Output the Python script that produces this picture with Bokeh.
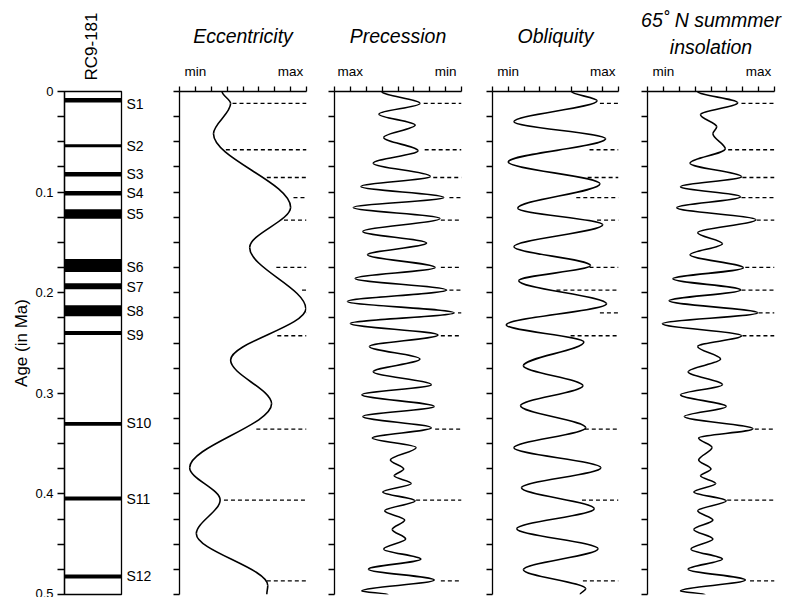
import numpy as np
from bokeh.plotting import figure
from bokeh.layouts import row
from bokeh.models import Range1d, FixedTicker, CustomJSTickFormatter, Title, LinearAxis
from bokeh.embed import file_html
from bokeh.resources import INLINE

FONT = "Liberation Sans"

# ---------------- data ----------------
sapropel_names = ["S1", "S2", "S3", "S4", "S5", "S6", "S7", "S8", "S9", "S10", "S11", "S12"]
sapropel_top = [0.0065, 0.0525, 0.0800, 0.0990, 0.1170, 0.1665, 0.1905, 0.2125, 0.2380, 0.3285, 0.4025, 0.4800]
sapropel_bottom = [0.0110, 0.0555, 0.0845, 0.1035, 0.1265, 0.1795, 0.1965, 0.2235, 0.2420, 0.3322, 0.4065, 0.4840]
sapropel_label_age = [0.0128, 0.0545, 0.0820, 0.1010, 0.1220, 0.1740, 0.1940, 0.2185, 0.2420, 0.3300, 0.4050, 0.4820]
core_name = "RC9-181"
# ages of the dashed lines (insolation maxima)
line_age = [0.0119, 0.0579, 0.0855, 0.1054, 0.1278, 0.1749, 0.1974, 0.2200, 0.2428, 0.3356, 0.4062, 0.4864]

# values in % of the min..max span of each panel axis (0 = left label, 100 = right label)
ecc_age = [0.000, 0.012, 0.042, 0.115, 0.155, 0.216, 0.267, 0.3105, 0.374, 0.406, 0.4395, 0.491, 0.500]
ecc_val = [28, 37, 19, 100, 57, 116, 37, 80, -6, 26, 1, 76, 75]
ecc_line_start = [39, 32, 75, 103, 93, 85, 112, 117, 86, 64, 30, 75]

prec_age = [0.000, 0.0119, 0.0225, 0.0334, 0.0457, 0.0589, 0.0712, 0.0845, 0.0944, 0.1054,
            0.1153, 0.1262, 0.1392, 0.1507, 0.1623, 0.1749, 0.1859, 0.1974, 0.2087, 0.2200,
            0.2306, 0.2421, 0.2535, 0.2660, 0.2786, 0.2915, 0.3015, 0.3131, 0.3231, 0.3343,
            0.3445, 0.3539, 0.3664, 0.3753, 0.3820, 0.3897, 0.3980, 0.4069, 0.4168, 0.4260,
            0.4354, 0.4449, 0.4549, 0.4648, 0.4748, 0.4857, 0.4964, 0.5000]
prec_val = [33, 73, 30, 68, 35, 71, 24, 84, 11, 98,
            3, 94, 13, 80, 18, 89, 5, 101, -3, 109,
            0, 92, 20, 73, 24, 85, 12, 88, 13, 85,
            23, 69, 42, 56, 46, 64, 34, 68, 36, 57,
            44, 58, 35, 74, 19, 88, 12, 40]
prec_line_start = [77, 78, 87, 104, 95, 95, 104, 113, 95, 89, 69, 95]

obl_age = [0.000, 0.0092, 0.030, 0.047, 0.070, 0.0917, 0.1160, 0.1325, 0.1543, 0.173,
           0.1880, 0.211, 0.232, 0.2490, 0.2726, 0.2925, 0.3124, 0.3343, 0.3542, 0.374,
           0.3939, 0.4148, 0.4347, 0.4546, 0.4754, 0.4944, 0.500]
obl_val = [67, 94, 6, 103, 0, 97, 10, 100, 6, 87,
           11, 104, -2, 80, 16, 79, 13, 82, 6, 98,
           14, 91, 9, 95, 16, 82, 76]
obl_line_start = [97, 86, 84, 72, 94, 86, 51, 97, 66, 81, 78, 79]

ins_age = [0.000, 0.0112, 0.0232, 0.0351, 0.042, 0.057, 0.0713, 0.0848, 0.0947, 0.1046,
           0.1156, 0.1275, 0.1405, 0.1514, 0.1624, 0.1753, 0.1862, 0.1972, 0.2081, 0.2200,
           0.2309, 0.2429, 0.2535, 0.2660, 0.2786, 0.2915, 0.3015, 0.3131, 0.3231, 0.3353,
           0.3445, 0.3539, 0.3664, 0.3753, 0.3820, 0.3897, 0.3980, 0.4069, 0.4168, 0.4260,
           0.4354, 0.4449, 0.4549, 0.4648, 0.4748, 0.4857, 0.4964, 0.5000]
ins_val = [36, 78, 39, 56, 52, 65, 28, 82, 18, 81,
           14, 97, 36, 62, 28, 84, 10, 81, 6, 99,
           -1, 82, 36, 60, 26, 62, 18, 66, 22, 94,
           37, 51, 37, 50, 39, 55, 32, 66, 36, 52,
           32, 52, 29, 62, 26, 86, 18, 44]
ins_line_start = [82, 68, 83, 82, 98, 86, 82, 100, 83, 96, 67, 91]

# ---------------- layout constants ----------------
TOP = 91
FRAME_H = 503
BOTTOM = 3
XMIN, XMAX = -1 / 6, 7 / 6


def smooth_curve(p, ages, vals):
    a = np.asarray(ages, dtype=float)
    v = np.asarray(vals, dtype=float) / 100.0
    d = np.diff(a) / 3.0
    p.bezier(x0=v[:-1], y0=a[:-1], x1=v[1:], y1=a[1:],
             cx0=v[:-1], cy0=a[:-1] + d, cx1=v[1:], cy1=a[1:] - d,
             line_color="black", line_width=1.6)


def add_title(p, text, standoff):
    t = Title(text=text, align="center", text_font=FONT, text_font_style="italic",
              text_font_size="19.5px", text_color="black", standoff=standoff)
    p.add_layout(t, "above")


def panel(title_lines, left_lab, right_lab, mbl, fw, mbr, ages, vals, starts):
    p = figure(frame_width=fw, frame_height=FRAME_H,
               min_border_left=mbl, min_border_right=mbr,
               min_border_top=TOP, min_border_bottom=BOTTOM,
               x_range=Range1d(XMIN, XMAX), y_range=Range1d(0.5, 0),
               x_axis_location="above", y_axis_location="left",
               output_backend="svg", toolbar_location=None)
    p.grid.visible = False
    p.outline_line_color = None
    p.background_fill_color = "white"
    p.border_fill_color = "white"

    xa = p.xaxis[0]
    xa.ticker = FixedTicker(ticks=[(k - 1) / 6 for k in range(9)], minor_ticks=[])
    xa.formatter = CustomJSTickFormatter(code=(
        "if (Math.abs(tick) < 1e-6) return '%s';"
        "if (Math.abs(tick - 1) < 1e-6) return '%s';"
        "return '';") % (left_lab, right_lab))
    xa.major_tick_in = 0
    xa.major_tick_out = 5
    xa.minor_tick_out = 0
    xa.axis_line_width = 1.3
    xa.major_tick_line_width = 1.3
    xa.major_label_standoff = 8
    xa.major_label_text_font = FONT
    xa.major_label_text_font_size = "13.5px"
    xa.major_label_text_color = "black"

    ya = p.yaxis[0]
    ya.ticker = FixedTicker(ticks=[i * 0.025 for i in range(21)], minor_ticks=[])
    ya.formatter = CustomJSTickFormatter(code="return '';")
    ya.major_tick_in = 0
    ya.major_tick_out = 6
    ya.minor_tick_out = 0
    ya.axis_line_width = 1.3
    ya.major_tick_line_width = 1.3
    ya.major_label_text_font_size = "1px"

    smooth_curve(p, ages, vals)

    x0 = [s / 100.0 for s in starts]
    p.segment(x0=x0, y0=line_age, x1=[XMAX] * len(line_age), y1=line_age,
              line_color="black", line_width=1.3, line_dash="4 3")

    if len(title_lines) == 1:
        add_title(p, title_lines[0], 27)
    else:
        add_title(p, title_lines[1], 6)
        add_title(p, title_lines[0], 0)
    return p


# ---------------- core column ----------------
core = figure(frame_width=57, frame_height=FRAME_H,
              min_border_left=64, min_border_right=38,
              min_border_top=TOP, min_border_bottom=BOTTOM,
              x_range=Range1d(0, 1), y_range=Range1d(0.5, 0),
              x_axis_location=None, y_axis_location="left",
              output_backend="svg", toolbar_location=None)
core.grid.visible = False
core.outline_line_color = "black"
core.outline_line_width = 1.3
ca = core.yaxis[0]
ca.ticker = FixedTicker(ticks=[i * 0.025 for i in range(21)], minor_ticks=[])
ca.formatter = CustomJSTickFormatter(code=(
    "const r = Math.round(tick * 40);"
    "if (r % 4 != 0) return '';"
    "return r == 0 ? '0' : (r / 40).toFixed(1);"))
ca.major_tick_in = 0
ca.major_tick_out = 7
ca.minor_tick_out = 0
ca.axis_line_width = 1.3
ca.major_tick_line_width = 1.3
ca.major_label_standoff = 4
ca.major_label_text_font = FONT
ca.major_label_text_font_size = "13px"
ca.major_label_text_color = "black"
ca.axis_label = "Age (in Ma)"
ca.axis_label_text_font = FONT
ca.axis_label_text_font_style = "normal"
ca.axis_label_text_font_size = "17px"
ca.axis_label_text_color = "black"
ca.axis_label_standoff = 1

core.quad(left=0, right=1, top=sapropel_top, bottom=sapropel_bottom,
          fill_color="black", line_color=None)

# sapropel names as labels of an axis on the right of the column
name_axis = LinearAxis(
    ticker=FixedTicker(ticks=sapropel_label_age, minor_ticks=[]),
    formatter=CustomJSTickFormatter(args=dict(ages=sapropel_label_age, names=sapropel_names), code=(
        "let b = 0;"
        "for (let i = 0; i < ages.length; i++) {"
        "  if (Math.abs(ages[i] - tick) < Math.abs(ages[b] - tick)) b = i; }"
        "return names[b];")),
    axis_line_color=None, major_tick_in=0, major_tick_out=0, minor_tick_out=0,
    major_label_standoff=5, major_label_text_font=FONT,
    major_label_text_font_size="14px", major_label_text_color="black")
core.add_layout(name_axis, "right")

# core name as a vertical label of an axis above the column
top_axis = LinearAxis(
    ticker=FixedTicker(ticks=[0.48], minor_ticks=[]),
    formatter=CustomJSTickFormatter(args=dict(name=core_name), code="return name;"),
    axis_line_color=None, major_tick_in=0, major_tick_out=0, minor_tick_out=0,
    major_label_standoff=11, major_label_orientation="vertical",
    major_label_text_font=FONT, major_label_text_font_size="17px",
    major_label_text_color="black")
core.add_layout(top_axis, "above")

p_ecc = panel(["Eccentricity"], "min", "max", 20, 127, 8, ecc_age, ecc_val, ecc_line_start)
p_prec = panel(["Precession"], "max", "min", 20, 127, 11, prec_age, prec_val, prec_line_start)
p_obl = panel(["Obliquity"], "min", "max", 20, 126, 9, obl_age, obl_val, obl_line_start)
p_ins = panel(["65\u02da N summmer", "insolation"], "min", "max", 20, 127, 20,
              ins_age, ins_val, ins_line_start)

layout = row(core, p_ecc, p_prec, p_obl, p_ins)
open("out.html", "w").write(file_html(layout, INLINE))
